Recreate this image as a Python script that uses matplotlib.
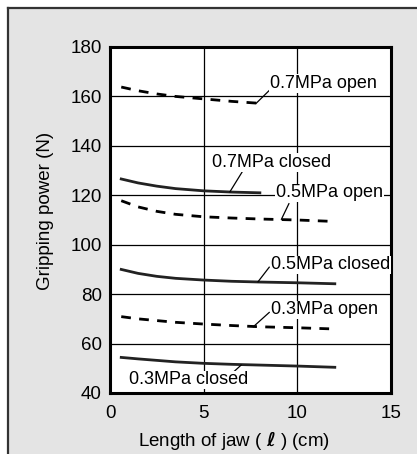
import numpy as np
import matplotlib.pyplot as plt
from matplotlib.patches import Rectangle
from matplotlib.lines import Line2D

plt.rcParams['font.family'] = ['Liberation Sans', 'DejaVu Sans']

# curve data (jaw length cm, gripping power N)
x_short = [0.6, 1.5, 2.5, 3.5, 5.0, 6.5, 8.0]
x_long = [0.6, 1.5, 2.5, 3.5, 5.0, 6.5, 8.0, 10.0, 12.0]

open_07 = [163.8, 162.3, 161.0, 160.0, 159.0, 158.0, 157.2]
closed_07 = [126.6, 125.0, 123.7, 122.7, 121.8, 121.3, 121.0]
open_05 = [117.8, 115.3, 113.5, 112.3, 111.3, 110.8, 110.4, 110.0, 109.4]
closed_05 = [90.0, 88.4, 87.2, 86.4, 85.7, 85.2, 84.9, 84.6, 84.2]
open_03 = [70.9, 70.0, 69.3, 68.6, 67.9, 67.3, 66.8, 66.4, 65.9]
closed_03 = [54.4, 53.8, 53.2, 52.6, 52.0, 51.6, 51.3, 50.9, 50.4]

y_ticks = [40, 60, 80, 100, 120, 140, 160, 180]
x_ticks = [0, 5, 10, 15]

# label text, text position, leader start (on curve), leader end
labels = [
    ('0.7MPa open', (8.55, 165.3), (7.8, 157.2), (8.5, 162.4)),
    ('0.7MPa closed', (5.45, 133.2), (6.4, 121.4), (7.1, 130.0)),
    ('0.5MPa open', (8.85, 121.0), (9.15, 110.3), (9.55, 116.6)),
    ('0.5MPa closed', (8.6, 91.8), (7.9, 85.0), (8.5, 90.9)),
    ('0.3MPa open', (8.6, 73.6), (7.65, 66.8), (8.5, 72.6)),
    ('0.3MPa closed', (1.0, 45.3), (7.0, 51.3), (6.55, 48.2)),
]

fig = plt.figure(figsize=(4.17, 4.54), dpi=100)
fig.patch.set_facecolor('white')
W, H = 417, 454
fig.add_artist(Rectangle((7 / W, 0), 1, 1 - 7 / H, transform=fig.transFigure,
                         facecolor='#e4e4e4', edgecolor='none', zorder=0))
fig.add_artist(Line2D([7.5 / W, 7.5 / W], [0, 1 - 7.5 / H], transform=fig.transFigure,
                      color='#333333', linewidth=1.6))
fig.add_artist(Line2D([7.5 / W, 1], [1 - 7.5 / H, 1 - 7.5 / H], transform=fig.transFigure,
                      color='#333333', linewidth=1.6))

ax = fig.add_axes([110 / W, 1 - 393 / H, 281 / W, 346 / H])
ax.set_facecolor('white')
ax.set_xlim(0, 15)
ax.set_ylim(40, 180)
ax.set_xticks(x_ticks)
ax.set_yticks(y_ticks)
ax.grid(True, color='black', linewidth=0.9)
ax.set_axisbelow(True)
ax.tick_params(axis='x', length=0, labelsize=13.5, pad=9)
ax.tick_params(axis='y', length=0, labelsize=13.5, pad=6)
for s in ax.spines.values():
    s.set_linewidth(2.2)

dash = dict(color='black', linewidth=2.0, linestyle=(0, (3.5, 3)))
solid = dict(color='#222222', linewidth=2.0)
ax.plot(x_short, open_07, **dash)
ax.plot(x_short, closed_07, **solid)
ax.plot(x_long, open_05, **dash)
ax.plot(x_long, closed_05, **solid)
ax.plot(x_long, open_03, **dash)
ax.plot(x_long, closed_03, **solid)

for text, pos, p0, p1 in labels:
    ax.plot([p0[0], p1[0]], [p0[1], p1[1]], color='black', linewidth=0.9)
    ax.text(pos[0], pos[1], text, fontsize=13, va='center', ha='left', clip_on=False,
            bbox=dict(facecolor='white', edgecolor='none', pad=0.5))

ax.set_xlabel('Length of jaw ( $\\boldsymbol{\\ell}$ ) (cm)', fontsize=13.5)
ax.xaxis.set_label_coords(0.44, -0.105)
ax.set_ylabel('Gripping power (N)', fontsize=13.5)
ax.yaxis.set_label_coords(-0.2, 0.525)

fig.savefig('out.png', dpi=100)
